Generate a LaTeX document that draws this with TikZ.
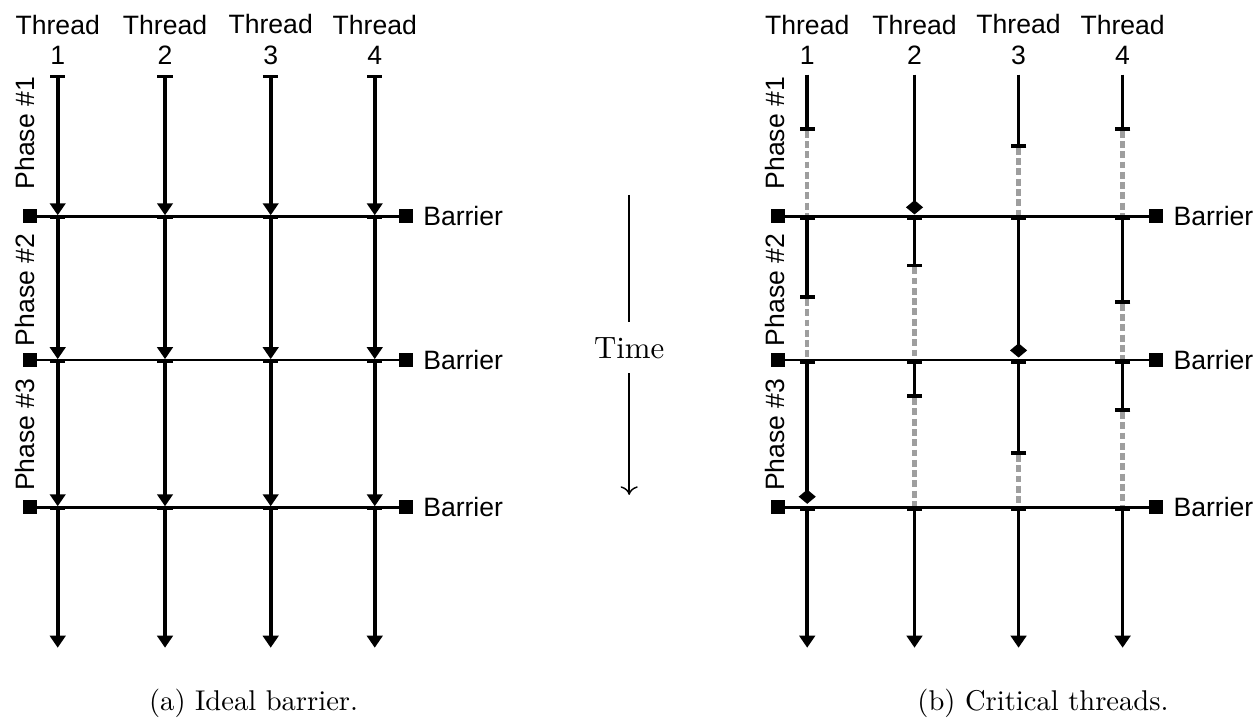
\documentclass[tikz,border=0pt]{standalone}
\usepackage{fontspec}
\newfontfamily\arial{Liberation Sans}
\usetikzlibrary{arrows.meta}

\tikzset{
    thread/.style={line width=1.3pt},
    idle/.style={line width=1.5pt, black!38, dash pattern=on 2.4pt off 1.2pt},
    barrier/.style={line width=1pt, {Square[length=5pt,width=5pt]}-{Square[length=5pt,width=5pt]}},
    label/.style={font=\arial\fontsize{9.3}{10.6}\selectfont, align=center, inner sep=0pt},
    work/.style={thread, {Bar[width=5.4pt]}-{Triangle[width=5.4pt,length=4.2pt]}},
    first/.style={thread, -{Bar[width=5.4pt]}},
    mid/.style={thread, {Bar[width=5.4pt]}-{Bar[width=5.4pt]}},
    critfirst/.style={thread, -{Diamond[length=5pt,width=6pt]}},
    critmid/.style={thread, {Bar[width=5.4pt]}-{Diamond[length=5pt,width=6pt]}}
}

\begin{document}
\begin{tikzpicture}
        \useasboundingbox (0,0) rectangle (15.5,8.868);

        % (a) Ideal barrier
        \foreach \i/\x in {1/0.71,2/2.03,3/3.33,4/4.61} {
            \node[label, anchor=south] (ta\i) at (\x,8.07) {Thread\\\i};
            \coordinate (a\i-0) at (\x,7.95);
            \coordinate (a\i-1) at (\x,6.22);
            \coordinate (a\i-2) at (\x,4.45);
            \coordinate (a\i-3) at (\x,2.64);
            \coordinate (a\i-4) at (\x,0.90);
            \draw[work] (a\i-0) -- (a\i-1);
            \draw[work] (a\i-1) -- (a\i-2);
            \draw[work] (a\i-2) -- (a\i-3);
            \draw[work] (a\i-3) -- (a\i-4);
        }
        \foreach \j/\y in {1/6.21,2/4.44,3/2.63} {
            \coordinate (la\j) at (0.283,\y);
            \coordinate (ra\j) at (5.08,\y);
            \draw[barrier] (la\j) -- (ra\j);
            \node[label, anchor=west] (bara\j) at (5.2,\y) {Barrier};
        }
        \node[label, rotate=90] (pa1) at (0.31,7.23) {Phase \#1};
        \node[label, rotate=90] (pa2) at (0.31,5.30) {Phase \#2};
        \node[label, rotate=90] (pa3) at (0.31,3.52) {Phase \#3};
        \node (capa) at (3.12,0.22) {(a) Ideal barrier.};

        % Time
        \node[font=\fontsize{10.8}{13}\selectfont, inner sep=5pt] (time) at (7.74,4.59) {Time};
        \coordinate (ttop) at (7.74,6.47);
        \coordinate (tbot) at (7.74,2.78);
        \draw[line width=0.5pt] (ttop) -- (time);
        \draw[line width=0.5pt, -{To[length=3pt,width=6pt]}] (time) -- (tbot);

        % (b) Critical threads
        \foreach \i/\x in {1/9.93,2/11.25,3/12.53,4/13.81} {
            \node[label, anchor=south] (tb\i) at (\x,8.07) {Thread\\\i};
            \coordinate (b\i-0) at (\x,7.95);
            \coordinate (b\i-1) at (\x,6.21);
            \coordinate (b\i-2) at (\x,4.44);
            \coordinate (b\i-3) at (\x,2.63);
            \coordinate (b\i-4) at (\x,0.90);
            \draw[work] (b\i-3) -- (b\i-4);
        }
        % end of work in each phase
        \coordinate (s1-1) at (9.93,7.26);
        \coordinate (s1-2) at (9.93,5.19);
        \coordinate (c1) at (9.93,2.67);
        \coordinate (c2) at (11.25,6.23);
        \coordinate (s2-2) at (11.25,5.58);
        \coordinate (s2-3) at (11.25,3.97);
        \coordinate (s3-1) at (12.53,7.05);
        \coordinate (c3) at (12.53,4.47);
        \coordinate (s3-3) at (12.53,3.27);
        \coordinate (s4-1) at (13.81,7.26);
        \coordinate (s4-2) at (13.81,5.13);
        \coordinate (s4-3) at (13.81,3.80);

        \draw[idle] (s1-1) -- (b1-1);
        \draw[idle] (s1-2) -- (b1-2);
        \draw[first] (b1-0) -- (s1-1);
        \draw[mid] (b1-1) -- (s1-2);
        \draw[critmid] (b1-2) -- (c1);

        \draw[idle] (s2-2) -- (b2-2);
        \draw[idle] (s2-3) -- (b2-3);
        \draw[critfirst] (b2-0) -- (c2);
        \draw[mid] (b2-1) -- (s2-2);
        \draw[mid] (b2-2) -- (s2-3);

        \draw[idle] (s3-1) -- (b3-1);
        \draw[idle] (s3-3) -- (b3-3);
        \draw[first] (b3-0) -- (s3-1);
        \draw[critmid] (b3-1) -- (c3);
        \draw[mid] (b3-2) -- (s3-3);

        \draw[idle] (s4-1) -- (b4-1);
        \draw[idle] (s4-2) -- (b4-2);
        \draw[idle] (s4-3) -- (b4-3);
        \draw[first] (b4-0) -- (s4-1);
        \draw[mid] (b4-1) -- (s4-2);
        \draw[mid] (b4-2) -- (s4-3);

        \foreach \j/\y in {1/6.21,2/4.44,3/2.63} {
            \coordinate (lb\j) at (9.48,\y);
            \coordinate (rb\j) at (14.31,\y);
            \draw[barrier] (lb\j) -- (rb\j);
            \node[label, anchor=west] (barb\j) at (14.43,\y) {Barrier};
        }
        \node[label, rotate=90] (pb1) at (9.53,7.23) {Phase \#1};
        \node[label, rotate=90] (pb2) at (9.53,5.30) {Phase \#2};
        \node[label, rotate=90] (pb3) at (9.53,3.52) {Phase \#3};
        \node (capb) at (12.83,0.22) {(b) Critical threads.};
    \end{tikzpicture}
\end{document}
